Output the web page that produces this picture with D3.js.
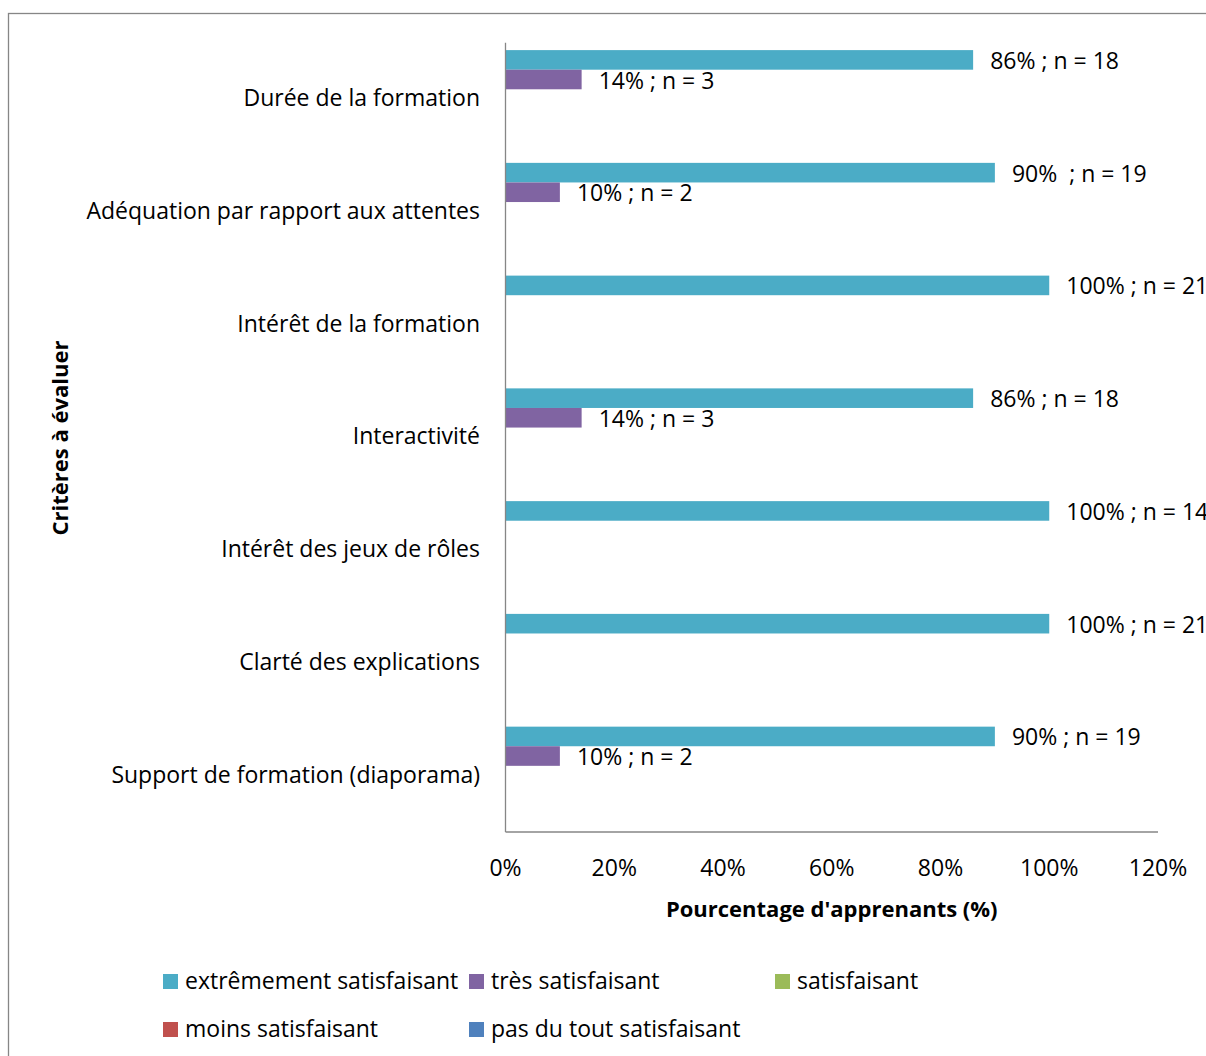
<!DOCTYPE html>
<html>
<head>
<meta charset="utf-8">
<script src="https://cdn.jsdelivr.net/npm/d3@7"></script>
<style>
  body { margin: 0; background: #fff; }
  text { font-family: "Open Sans", sans-serif; fill: #000; }
</style>
</head>
<body>
<script>
// categories, top to bottom
const categories = [
    "Durée de la formation",
    "Adéquation par rapport aux attentes",
    "Intérêt de la formation",
    "Interactivité",
    "Intérêt des jeux de rôles",
    "Clarté des explications",
    "Support de formation (diaporama)"
]
const seriesNames = [
    "extrêmement satisfaisant",
    "très satisfaisant",
    "satisfaisant",
    "moins satisfaisant",
    "pas du tout satisfaisant"
]
const seriesColors = ["#4BACC6", "#8064A2", "#9BBB59", "#C0504D", "#4F81BD"]
const extremement = [0.86, 0.90, 1.00, 0.86, 1.00, 1.00, 0.90]
const tres = [0.14, 0.10, 0, 0.14, 0, 0, 0.10]
const satisfaisant = [0, 0, 0, 0, 0, 0, 0]
const moins = [0, 0, 0, 0, 0, 0, 0]
const pasDuTout = [0, 0, 0, 0, 0, 0, 0]
const extremementLabels = ["86% ; n = 18", "90%  ; n = 19", "100% ; n = 21", "86% ; n = 18", "100% ; n = 14", "100% ; n = 21", "90% ; n = 19"]
const tresLabels = ["14% ; n = 3", "10% ; n = 2", "", "14% ; n = 3", "", "", "10% ; n = 2"]
const xTicks = [0, 0.2, 0.4, 0.6, 0.8, 1.0, 1.2]

const allValues = [extremement, tres, satisfaisant, moins, pasDuTout]
const allLabels = [extremementLabels, tresLabels, [], [], []]

const width = 1206, height = 1056

const svg = d3.select("body").append("svg")
    .attr("width", width)
    .attr("height", height)

// outer frame
svg.append("rect")
    .attr("x", 8.5).attr("y", 13.5)
    .attr("width", 1300).attr("height", 1100)
    .attr("fill", "none").attr("stroke", "#868686").attr("stroke-width", 1.3)

const x = d3.scaleLinear().domain([0, 1.2]).range([505.5, 1158])
const y = d3.scaleBand().domain(categories).range([42.7, 832])
const ySub = d3.scaleBand().domain(seriesNames).range([0, y.bandwidth()]).paddingOuter(0.378)

// bars
allValues.forEach((vals, s) => {
    let rows = vals.map((v, i) => ({ v: v, cat: categories[i], label: allLabels[s][i] || "" }))
    let g = svg.append("g")
    g.selectAll("rect")
        .data(rows)
        .enter()
        .append("rect")
        .attr("x", x(0))
        .attr("y", d => y(d.cat) + ySub(seriesNames[s]))
        .attr("width", d => x(d.v) - x(0))
        .attr("height", ySub.bandwidth())
        .attr("fill", seriesColors[s])
    g.selectAll("text")
        .data(rows.filter(d => d.label))
        .enter()
        .append("text")
        .attr("x", d => x(d.v) + 17)
        .attr("y", d => y(d.cat) + ySub(seriesNames[s]) + ySub.bandwidth() / 2 + 1)
        .attr("dy", "0.35em")
        .attr("font-size", 23)
        .style("white-space", "pre")
        .text(d => d.label)
})

// axes lines (no ticks)
svg.append("line")
    .attr("x1", x(0)).attr("x2", x(0))
    .attr("y1", 42.7).attr("y2", 832)
    .attr("stroke", "#868686").attr("stroke-width", 1.3)
svg.append("line")
    .attr("x1", x(0)).attr("x2", x(1.2))
    .attr("y1", 832).attr("y2", 832)
    .attr("stroke", "#868686").attr("stroke-width", 1.3)

// x tick labels
svg.selectAll(".xtick")
    .data(xTicks)
    .enter()
    .append("text")
    .attr("class", "xtick")
    .attr("x", d => x(d))
    .attr("y", 868)
    .attr("dy", "0.35em")
    .attr("text-anchor", "middle")
    .attr("font-size", 23)
    .text(d => Math.round(d * 100) + "%")

// category labels
svg.selectAll(".cat")
    .data(categories)
    .enter()
    .append("text")
    .attr("class", "cat")
    .attr("x", 480)
    .attr("y", d => y(d) + y.bandwidth() / 2 - 1)
    .attr("dy", "0.35em")
    .attr("text-anchor", "end")
    .attr("font-size", 23)
    .text(d => d)

// axis titles
svg.append("text")
    .attr("x", (x(0) + x(1.2)) / 2)
    .attr("y", 909)
    .attr("dy", "0.35em")
    .attr("text-anchor", "middle")
    .attr("font-size", 22)
    .attr("font-weight", "bold")
    .text("Pourcentage d'apprenants (%)")

svg.append("text")
    .attr("transform", "translate(60,438) rotate(-90)")
    .attr("dy", "0.35em")
    .attr("text-anchor", "middle")
    .attr("font-size", 22)
    .attr("font-weight", "bold")
    .text("Critères à évaluer")

// legend
const legendPos = [[163, 981], [469, 981], [775, 981], [163, 1029], [469, 1029]]
const legend = svg.selectAll(".leg")
    .data(seriesNames)
    .enter()
    .append("g")
    .attr("class", "leg")
    .attr("transform", (d, i) => "translate(" + legendPos[i][0] + "," + legendPos[i][1] + ")")
legend.append("rect")
    .attr("x", 0).attr("y", -7)
    .attr("width", 15).attr("height", 15)
    .attr("fill", (d, i) => seriesColors[i])
legend.append("text")
    .attr("x", 22)
    .attr("y", 0)
    .attr("dy", "0.35em")
    .attr("font-size", 23)
    .text(d => d)
</script>
</body>
</html>
